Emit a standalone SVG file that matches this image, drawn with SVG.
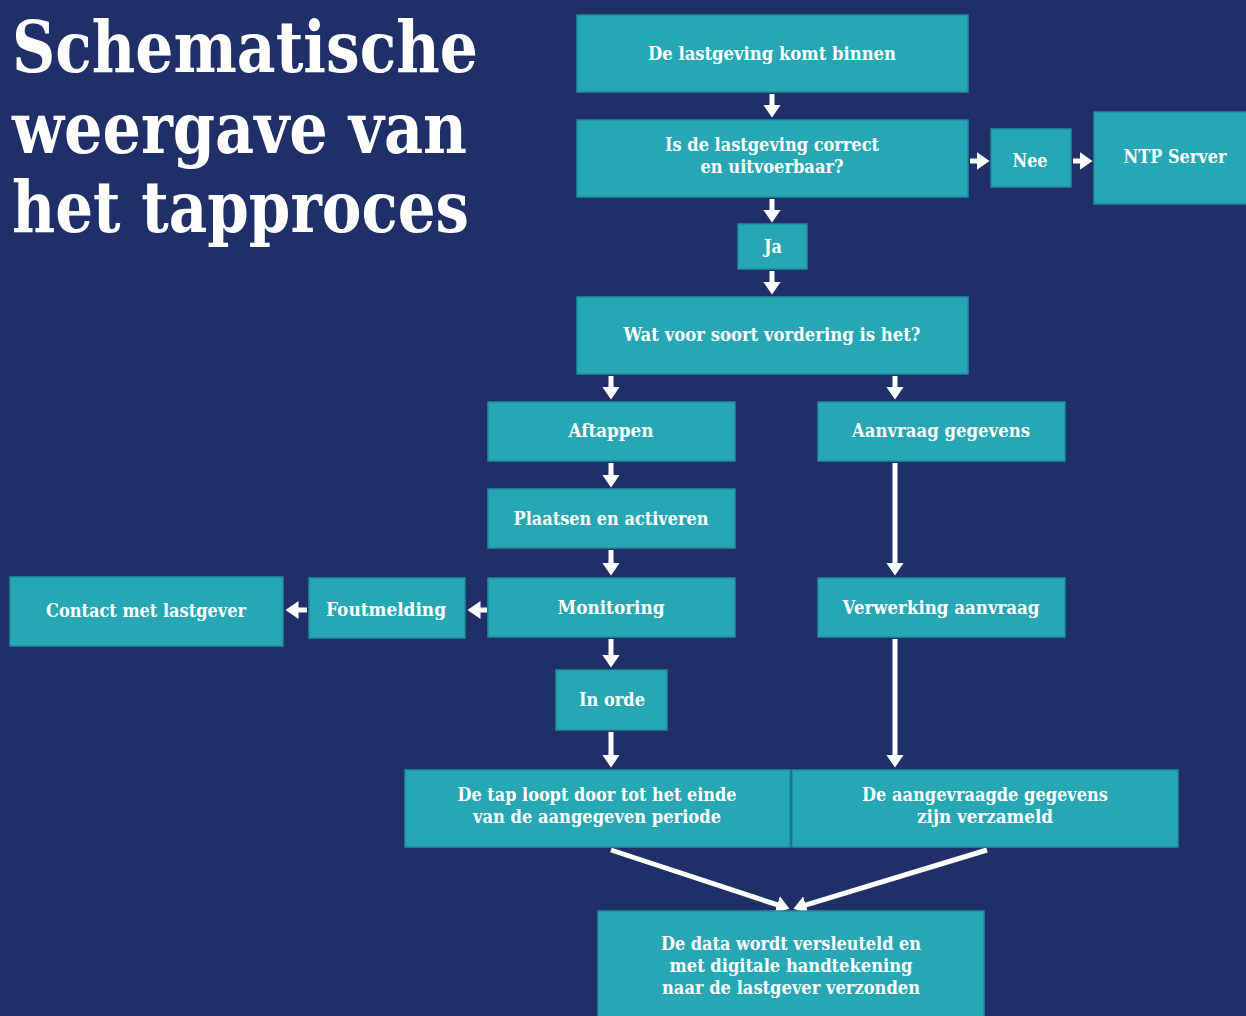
<svg xmlns="http://www.w3.org/2000/svg" width="1246" height="1016" viewBox="0 0 1246 1016">
<style>
.box{fill:#27a7b4;stroke:#1f8e9d;stroke-width:1.5}
.t{font-family:"DejaVu Serif","Liberation Serif",serif;font-weight:bold;font-size:18.5px;fill:#fff;text-anchor:middle}
.title{font-family:"DejaVu Serif","Liberation Serif",serif;font-weight:bold;font-size:71px;fill:#fff}
.c{stroke:#fff;stroke-width:5;fill:none;marker-end:url(#ah)}
</style>
<defs>
<marker id="ah" markerUnits="userSpaceOnUse" markerWidth="14" markerHeight="19" refX="0.5" refY="9" orient="auto">
<path d="M0,0 L13,9 L0,18 z" fill="#fff"/>
</marker>
</defs>
<rect width="1246" height="1016" fill="#202f68"/>
<g id="title">
<text class="title" x="12" y="72" textLength="466" lengthAdjust="spacingAndGlyphs">Schematische</text>
<text class="title" x="12" y="153" textLength="455" lengthAdjust="spacingAndGlyphs">weergave van</text>
<text class="title" x="12" y="232" textLength="457" lengthAdjust="spacingAndGlyphs">het tapproces</text>
</g>
<g id="connectors">
<line class="c" x1="772" y1="94" x2="772" y2="105"/>
<line class="c" x1="772" y1="199" x2="772" y2="210"/>
<line class="c" x1="772" y1="271" x2="772" y2="282"/>
<line class="c" x1="970" y1="161" x2="977" y2="161"/>
<line class="c" x1="1073" y1="161" x2="1080" y2="161"/>
<line class="c" x1="611" y1="376" x2="611" y2="387"/>
<line class="c" x1="895" y1="376" x2="895" y2="387"/>
<line class="c" x1="611" y1="463" x2="611" y2="475"/>
<line class="c" x1="611" y1="550" x2="611" y2="563"/>
<line class="c" x1="895" y1="463" x2="895" y2="563"/>
<line class="c" x1="611" y1="639" x2="611" y2="655"/>
<line class="c" x1="611" y1="732" x2="611" y2="755"/>
<line class="c" x1="895" y1="639" x2="895" y2="755"/>
<line class="c" x1="487" y1="610" x2="480" y2="610"/>
<line class="c" x1="307" y1="610" x2="298" y2="610"/>
<line class="c" x1="611" y1="850" x2="777.6" y2="904.9"/>
<line class="c" x1="987" y1="850" x2="805.4" y2="905.2"/>
</g>
<g id="n1"><rect class="box" x="577" y="15" width="391" height="77"/><text class="t" x="772" y="60" textLength="248" lengthAdjust="spacingAndGlyphs">De lastgeving komt binnen</text></g>
<g id="n2"><rect class="box" x="577" y="120" width="391" height="77"/><text class="t" x="772" y="151" textLength="214" lengthAdjust="spacingAndGlyphs">Is de lastgeving correct</text><text class="t" x="772" y="173" textLength="143" lengthAdjust="spacingAndGlyphs">en uitvoerbaar?</text></g>
<g id="n3"><rect class="box" x="991" y="129" width="80" height="58"/><text class="t" x="1030" y="167" textLength="35" lengthAdjust="spacingAndGlyphs">Nee</text></g>
<g id="n4"><rect class="box" x="1094" y="112" width="160" height="92"/><text class="t" x="1175" y="163" textLength="103" lengthAdjust="spacingAndGlyphs">NTP Server</text></g>
<g id="n5"><rect class="box" x="738" y="224" width="69" height="45"/><text class="t" x="773" y="253" textLength="18" lengthAdjust="spacingAndGlyphs">Ja</text></g>
<g id="n6"><rect class="box" x="577" y="297" width="391" height="77"/><text class="t" x="772" y="341" textLength="297" lengthAdjust="spacingAndGlyphs">Wat voor soort vordering is het?</text></g>
<g id="n7"><rect class="box" x="488" y="402" width="247" height="59"/><text class="t" x="611" y="437" textLength="85" lengthAdjust="spacingAndGlyphs">Aftappen</text></g>
<g id="n8"><rect class="box" x="818" y="402" width="247" height="59"/><text class="t" x="941" y="437" textLength="178" lengthAdjust="spacingAndGlyphs">Aanvraag gegevens</text></g>
<g id="n9"><rect class="box" x="488" y="489" width="247" height="59"/><text class="t" x="611" y="525" textLength="195" lengthAdjust="spacingAndGlyphs">Plaatsen en activeren</text></g>
<g id="n10"><rect class="box" x="488" y="578" width="247" height="59"/><text class="t" x="611" y="614" textLength="107" lengthAdjust="spacingAndGlyphs">Monitoring</text></g>
<g id="n11"><rect class="box" x="818" y="578" width="247" height="59"/><text class="t" x="941" y="614" textLength="197" lengthAdjust="spacingAndGlyphs">Verwerking aanvraag</text></g>
<g id="n12"><rect class="box" x="309" y="578" width="156" height="60"/><text class="t" x="386" y="616" textLength="120" lengthAdjust="spacingAndGlyphs">Foutmelding</text></g>
<g id="n13"><rect class="box" x="10" y="577" width="273" height="69"/><text class="t" x="146" y="617" textLength="200" lengthAdjust="spacingAndGlyphs">Contact met lastgever</text></g>
<g id="n14"><rect class="box" x="556" y="670" width="111" height="60"/><text class="t" x="612" y="706" textLength="66" lengthAdjust="spacingAndGlyphs">In orde</text></g>
<g id="n15"><rect class="box" x="405" y="770" width="385" height="77"/><text class="t" x="597" y="801" textLength="279" lengthAdjust="spacingAndGlyphs">De tap loopt door tot het einde</text><text class="t" x="597" y="823" textLength="248" lengthAdjust="spacingAndGlyphs">van de aangegeven periode</text></g>
<g id="n16"><rect class="box" x="792" y="770" width="386" height="77"/><text class="t" x="985" y="801" textLength="246" lengthAdjust="spacingAndGlyphs">De aangevraagde gegevens</text><text class="t" x="985" y="823" textLength="136" lengthAdjust="spacingAndGlyphs">zijn verzameld</text></g>
<g id="n17"><rect class="box" x="598" y="911" width="386" height="110"/><text class="t" x="791" y="950" textLength="260" lengthAdjust="spacingAndGlyphs">De data wordt versleuteld en</text><text class="t" x="791" y="972" textLength="243" lengthAdjust="spacingAndGlyphs">met digitale handtekening</text><text class="t" x="791" y="994" textLength="258" lengthAdjust="spacingAndGlyphs">naar de lastgever verzonden</text></g>
</svg>
